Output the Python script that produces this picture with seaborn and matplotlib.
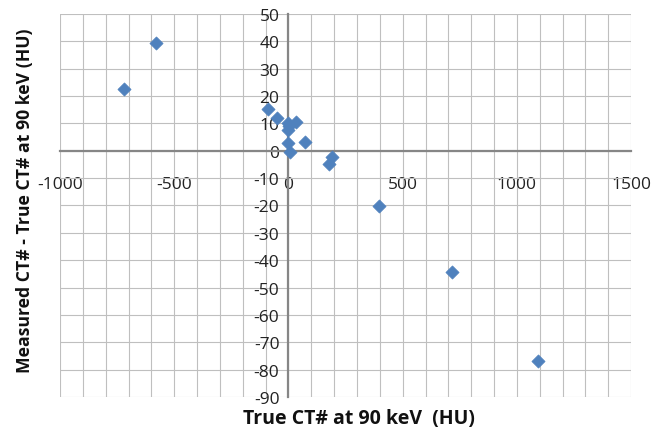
import matplotlib
matplotlib.use("Agg")
import matplotlib.pyplot as plt
from matplotlib.ticker import MultipleLocator
import pandas as pd
import seaborn as sns

# Valores
true_ct = [-718, -581, -88, -49, -3, 2, -2, 32, -2, 6, 73, 176, 191, 397, 716, 1092]
diff_ct = [22.5, 39.2, 15.3, 11.9, 10.0, 9.0, 7.5, 10.4, 2.7, -0.6, 3.3,
           -4.9, -2.4, -20.3, -44.4, -76.6]

x_label = "True CT# at 90 keV  (HU)"
y_label = "Measured CT# - True CT# at 90 keV (HU)"

df = pd.DataFrame({"true": true_ct, "diff": diff_ct})

sns.set_theme(style="white")
plt.rcParams["font.family"] = ["Open Sans", "DejaVu Sans"]
plt.rcParams["axes.unicode_minus"] = False

fig = plt.figure(figsize=(6.54, 4.35), dpi=100)
ax = fig.add_axes([0.0917, 0.0844, 0.8733, 0.8818])

sns.scatterplot(data=df, x="true", y="diff", ax=ax, marker="D", s=45,
                color="#4F81BD", edgecolor="#4F81BD", linewidth=0.5, zorder=5)

ax.set_xlim(-1000, 1500)
ax.set_ylim(-90, 50)
ax.xaxis.set_major_locator(MultipleLocator(500))
ax.xaxis.set_minor_locator(MultipleLocator(100))
ax.yaxis.set_major_locator(MultipleLocator(10))

ax.grid(True, which="both", color="#BFBFBF", linewidth=0.8)
ax.set_axisbelow(True)
# que el marco exterior (lineas de borde) no quede recortado
for gl in ax.get_xgridlines() + ax.get_ygridlines():
    gl.set_clip_on(False)

# ejes cruzando en el origen
for side in ["top", "right"]:
    ax.spines[side].set_visible(False)
ax.spines["left"].set_position(("data", 0))
ax.spines["bottom"].set_position(("data", 0))
for side in ["left", "bottom"]:
    ax.spines[side].set_color("#868686")
    ax.spines[side].set_linewidth(1.6)
    ax.spines[side].set_zorder(3)

ax.tick_params(which="major", direction="inout", length=7, width=1.2,
               color="#868686", labelsize=12.5, labelcolor="#222222", pad=3)
ax.tick_params(axis="x", which="major", pad=15)
ax.tick_params(which="minor", length=0)

ax.set_xlabel("")
ax.set_ylabel("")
fig.text(0.549, 0.037, x_label, ha="center", va="center",
         fontsize=14, fontweight="bold", color="#111111")
fig.text(0.038, 0.538, y_label, ha="center", va="center", rotation=90,
         fontsize=12.7, fontweight="bold", color="#111111")

fig.savefig("out.png", dpi=100)
